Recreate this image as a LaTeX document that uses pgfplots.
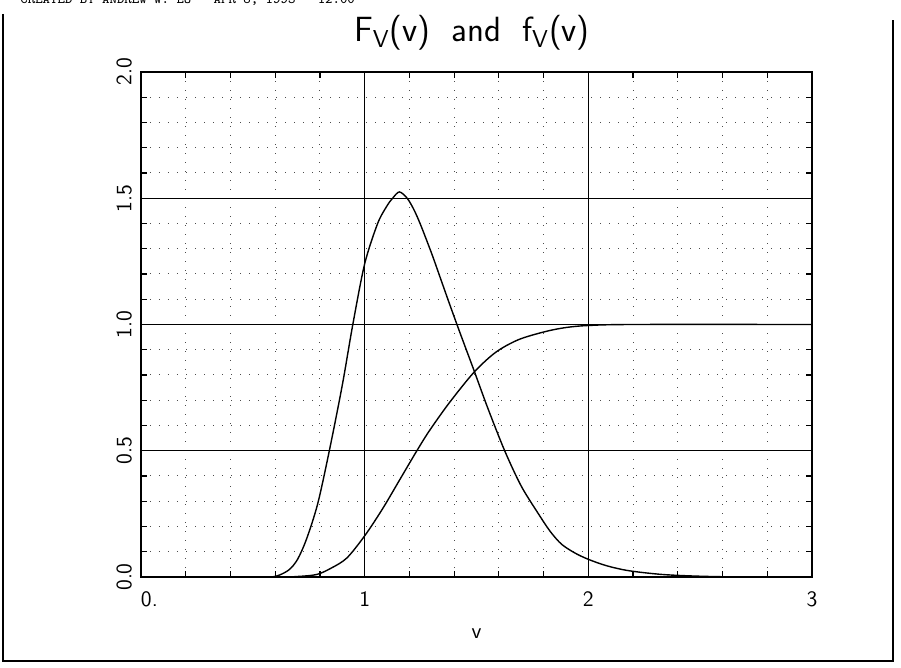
\documentclass[border=0pt]{standalone}
\usepackage{pgfplots}
\pgfplotsset{compat=1.18}

% density f_V(v)
\pgfplotstableread{
v f
0.00 0.000
0.50 0.000
0.58 0.000
0.62 0.008
0.664 0.030
0.70 0.070
0.74 0.150
0.79 0.290
0.842 0.500
0.90 0.760
0.947 1.000
1.00 1.240
1.058 1.400
1.10 1.470
1.125 1.500
1.155 1.525
1.19 1.500
1.22 1.455
1.25 1.395
1.30 1.280
1.34 1.180
1.38 1.080
1.425 0.970
1.488 0.820
1.55 0.670
1.626 0.500
1.70 0.360
1.777 0.250
1.83 0.180
1.88 0.130
1.94 0.095
2.00 0.070
2.08 0.045
2.18 0.025
2.33 0.010
2.50 0.003
2.70 0.000
3.00 0.000
}\pdftable

% distribution F_V(v)
\pgfplotstableread{
v F
0.00 0.000
0.60 0.000
0.70 0.002
0.786 0.010
0.85 0.035
0.92 0.075
1.00 0.163
1.08 0.270
1.16 0.390
1.23 0.495
1.287 0.576
1.376 0.687
1.488 0.810
1.586 0.890
1.688 0.940
1.808 0.972
1.90 0.988
2.00 0.996
2.20 1.000
3.00 1.000
}\cdftable

\begin{document}
\begin{tikzpicture}[x=0.5pt,y=0.5pt]
  \useasboundingbox (0,0) rectangle (901,668);

  % frame of the page, top edge cut off
  \draw[line width=0.8pt] (3,654) -- (3,7) -- (893,7) -- (893,648);
  \node[anchor=base west, font=\ttfamily\fontsize{7}{8}\selectfont, inner sep=0pt]
    at (20,664) {CREATED BY ANDREW W. LO \ \ APR 8, 1993 \ \ 12:00};

  \node[anchor=base, font=\sffamily\fontsize{17.5}{20}\selectfont, inner sep=0pt]
    at (472,626) {F\textsubscript{V}(v)\hspace{0.6em}and\hspace{0.6em}f\textsubscript{V}(v)};

  \begin{axis}[
      at={(70.5pt,45.5pt)}, anchor=origin,
      scale only axis,
      width=335.5pt, height=252.5pt,
      xmin=0, xmax=3,
      ymin=0, ymax=2,
      xtick={0,1,2,3},
      xticklabels={\phantom{0.}0.,1,2,3},
      ytick={0,0.5,1,1.5,2},
      yticklabels={0.0,0.5,1.0,1.5,2.0},
      minor x tick num=4,
      minor y tick num=4,
      tick align=inside,
      major tick length=3pt,
      minor tick length=3pt,
      every tick/.style={black, line width=0.6pt},
      axis line style={line width=1pt},
      xmajorgrids, ymajorgrids,
      xminorgrids, yminorgrids,
      major grid style={black, line width=0.7pt},
      minor grid style={black!70, line width=0.5pt, dash pattern=on 0.5pt off 4pt},
      ticklabel style={font=\sffamily\fontsize{11}{13}\selectfont},
      xticklabel style={yshift=-4pt},
      yticklabel style={rotate=90, anchor=south},
      yticklabel shift=1pt,
      xlabel={v},
      xlabel style={font=\sffamily\fontsize{11}{13}\selectfont,
                    at={(axis description cs:0.5,0)}, anchor=center, yshift=-28.5pt},
  ]
    \addplot[black, line width=0.7pt, smooth, tension=0.5] table[x=v, y=f] {\pdftable};
    \addplot[black, line width=0.7pt, smooth, tension=0.5] table[x=v, y=F] {\cdftable};
  \end{axis}
\end{tikzpicture}
\end{document}
